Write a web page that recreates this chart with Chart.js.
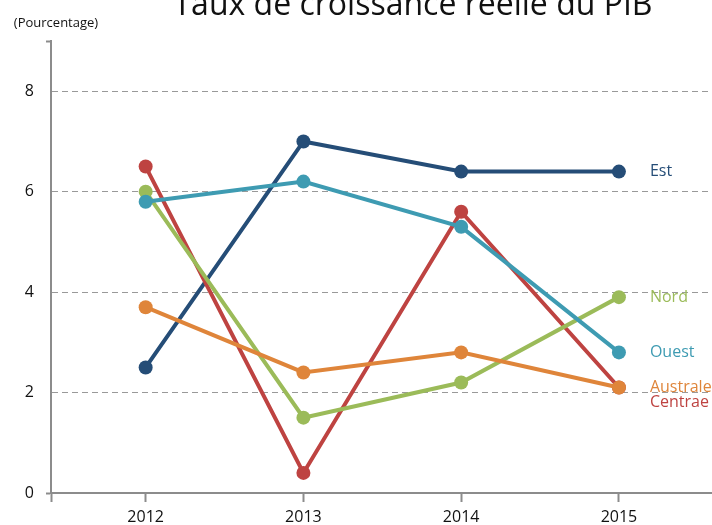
<!DOCTYPE html>
<html>
<head>
<meta charset="utf-8">
<script src="https://cdn.jsdelivr.net/npm/chart.js@4/dist/chart.umd.min.js"></script>
<style>
html,body{margin:0;padding:0;background:#fff;}
#wrap{width:712px;height:525px;position:relative;}
</style>
</head>
<body>
<div id="wrap"><canvas id="c" width="712" height="525"></canvas></div>
<script>
// ---- data ----
const years = [2012, 2013, 2014, 2015];
const yTickValues = [0, 2, 4, 6, 8];
const est = [2.5, 7.0, 6.4, 6.4];
const nord = [6.0, 1.5, 2.2, 3.9];
const ouest = [5.8, 6.2, 5.3, 2.8];
const australe = [3.7, 2.4, 2.8, 2.1];
const centrale = [6.5, 0.4, 5.6, 2.1];
const seriesNames = ['Est', 'Nord', 'Ouest', 'Australe', 'Centrae'];
const titleText = 'Taux de croissance réelle du PIB';
const yAxisTitle = '(Pourcentage)';

// ---- styles ----
const colors = ['#254d77', '#9bbb59', '#3e9bb2', '#df853a', '#be4341'];
const drawOrder = [5, 3, 2, 1, 4]; // lower = on top
const seriesValues = [est, nord, ouest, australe, centrale];
const AXIS = '#8c8c8c';
const FONT = '"Open Sans", "Noto Sans", sans-serif';

const datasets = seriesValues.map((vals, i) => ({
  label: seriesNames[i],
  data: years.map((yr, j) => ({x: yr, y: vals[j]})),
  borderColor: colors[i],
  backgroundColor: colors[i],
  pointBackgroundColor: colors[i],
  pointBorderWidth: 0,
  pointRadius: 7,
  pointHoverRadius: 7,
  borderWidth: 4,
  tension: 0,
  order: drawOrder[i]
}));

const textPlugin = {
  id: 'texts',
  afterDraw(chart) {
    const {ctx, scales: {x, y}} = chart;
    ctx.save();
    ctx.fillStyle = '#111';
    ctx.font = '32px ' + FONT;
    ctx.textAlign = 'center';
    ctx.textBaseline = 'alphabetic';
    ctx.fillText(titleText, 413, 15);
    ctx.font = '13px ' + FONT;
    ctx.textBaseline = 'middle';
    ctx.fillText(yAxisTitle, 56, 23);

    // end labels
    const lastX = x.getPixelForValue(years[years.length - 1]);
    const labels = chart.data.datasets.map((ds, i) => ({
      text: ds.label, color: ds.borderColor, idx: i,
      py: y.getPixelForValue(ds.data[ds.data.length - 1].y)
    }));
    const sorted = labels.slice().sort((a, b) => a.py - b.py || a.idx - b.idx);
    for (let k = 1; k < sorted.length; k++) {
      if (sorted[k].py - sorted[k - 1].py < 15) sorted[k].py = sorted[k - 1].py + 15;
    }
    ctx.font = '16px ' + FONT;
    ctx.textAlign = 'left';
    labels.forEach(l => {
      ctx.fillStyle = l.color;
      ctx.fillText(l.text, lastX + 31, l.py);
    });
    ctx.restore();
  }
};

new Chart(document.getElementById('c'), {
  type: 'line',
  data: {datasets},
  options: {
    responsive: false,
    devicePixelRatio: 1,
    animation: false,
    events: [],
    layout: {autoPadding: false, padding: {top: 41, right: 0, left: 0, bottom: 0}},
    plugins: {legend: {display: false}, title: {display: false}, tooltip: {enabled: false}},
    scales: {
      x: {
        type: 'linear',
        min: 2011.4,
        max: 2015.59,
        afterBuildTicks: s => { s.ticks = [2011.4].concat(years).map(v => ({value: v})); },
        afterFit: s => { s.height = 32; },
        ticks: {
          callback: v => years.includes(v) ? String(v) : '',
          color: '#111',
          font: {family: FONT, size: 16},
          padding: 6,
          maxRotation: 0,
          autoSkip: false
        },
        grid: {drawOnChartArea: false, drawTicks: true, tickLength: 9, tickColor: AXIS, tickWidth: 2, color: AXIS},
        border: {color: AXIS, width: 2}
      },
      y: {
        min: 0,
        max: 9,
        afterBuildTicks: s => { s.ticks = yTickValues.concat([9]).map(v => ({value: v})); },
        afterFit: s => { s.width = 51; },
        ticks: {
          callback: v => yTickValues.includes(v) ? String(v) : '',
          color: '#111',
          font: {family: FONT, size: 16},
          padding: 12
        },
        grid: {
          color: c => (c.tick && (c.tick.value === 0 || c.tick.value === 9)) ? 'rgba(0,0,0,0)' : '#999999',
          tickColor: c => (c.tick && (c.tick.value === 0 || c.tick.value === 9)) ? AXIS : 'rgba(0,0,0,0)',
          tickLength: 5,
          tickWidth: 2,
          lineWidth: 1
        },
        border: {color: AXIS, width: 2, dash: [6, 4]}
      }
    }
  },
  plugins: [textPlugin]
});
</script>
</body>
</html>
